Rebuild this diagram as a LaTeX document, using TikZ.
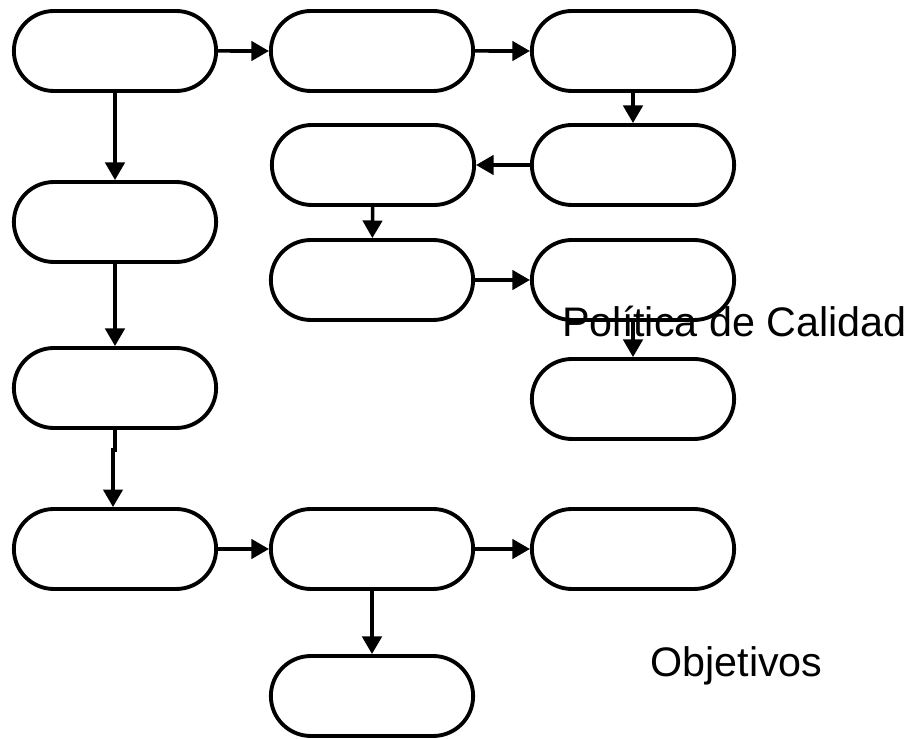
\documentclass[tikz,border=0pt]{standalone}
\usepackage{fontspec}
\setmainfont{Liberation Sans}
\usetikzlibrary{arrows.meta,shapes.misc}

\tikzset{
	pill/.style={draw, rounded rectangle, minimum width=4.28cm, minimum height=1.6cm, line width=2.2pt},
	link/.style={-{Triangle[length=10pt,width=11pt]}, line width=2pt},
	caption/.style={anchor=base west, inner sep=0pt, font=\fontsize{23.5}{28}\selectfont}
}

\begin{document}
\begin{tikzpicture}[x=0.02cm, y=-0.02cm]
		\useasboundingbox (0,0) rectangle (920,739);

		% boxes, positions in pixels
		\foreach \n/\x/\y in {a/115/51, b/372/51, c/633/51, d/373/165, e/633/165,
			f/115/222, g/372/280, h/633/280, i/633/399, j/115/388,
			k/115/549, l/372/549, m/633/549, n/372/696}
			\node[pill] (\n) at (\x,\y) {};

		% top route
		\draw[link] (a) -- (b);
		\draw[link] (b) -- (c);
		\draw[link] (c) -- (e);
		\draw[link] (e) -- (d);
		\draw[link] (d) -- (g);
		\draw[link] (g) -- (h);
		\draw[link] (h) -- (i);

		% left column
		\draw[link] (a) -- (f);
		\draw[link] (f) -- (j);
		\coordinate (jog) at (113,450);
		\draw[link] (j.south) -- (j.south |- jog) -- (jog) -- (jog |- k.north);

		% bottom route
		\draw[link] (k) -- (l);
		\draw[link] (l) -- (m);
		\draw[link] (l) -- (n);

		\node[caption] (politica) at (562,337) {Política de Calidad};
		\node[caption] (objetivos) at (650,677) {Objetivos};
	\end{tikzpicture}
\end{document}
